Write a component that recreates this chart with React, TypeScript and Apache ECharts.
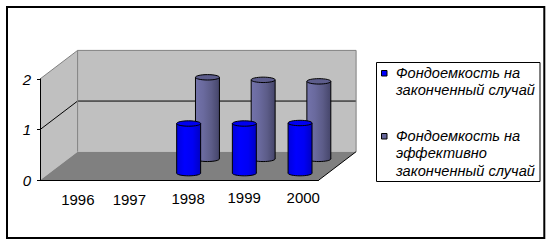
import React, { useEffect, useRef } from 'react';
import * as echarts from 'echarts';

// ---- data ----
const categories = ['1996', '1997', '1998', '1999', '2000'];
const seriesNames = [
  'Фондоемкость на законченный случай',
  'Фондоемкость на эффективно законченный случай',
];
const legendLines = [
  ['Фондоемкость на', 'законченный случай'],
  ['Фондоемкость на', 'эффективно', 'законченный случай'],
];
const completedValues: (number | null)[] = [null, null, 0.98, 0.98, 0.99];
const effectiveValues: (number | null)[] = [null, null, 1.61, 1.56, 1.53];
const yTicks = [0, 1, 2];

// ---- style / layout ----
const FONT = '"Liberation Sans", Arial, sans-serif';
const DEPTH_X = 37.6;
const DEPTH_Y = -28.6;
const seriesColors = ['#0000ff', '#666699'];
const labelShiftX = [20, 11.6, 17.6, 18.4, 25.2];
const labelShiftY = [3.7, 3.7, 2.3, 1.3, 0.3];

const toData = (vals: (number | null)[]) =>
  vals.map((v, i) => (v == null ? null : [i, v])).filter((d) => d != null);

function cylinder(depthFrac: number, body: string[], topFill: string) {
  return (params: any, api: any) => {
    const c = api.value(0);
    const v = api.value(1);
    const top = api.coord([c, v]);
    const base = api.coord([c, 0]);
    const band = api.size([1, 0])[0];
    const rx = band * 0.215;
    const ry = 2.7;
    const cx = top[0] + DEPTH_X * depthFrac;
    const ty = top[1] + DEPTH_Y * depthFrac;
    const by = base[1] + DEPTH_Y * depthFrac;
    const grad = () =>
      new echarts.graphic.LinearGradient(0, 0, 1, 0, body.map((col, i) => ({ offset: i / (body.length - 1), color: col })));
    return {
      type: 'group',
      children: [
        { type: 'ellipse', shape: { cx, cy: by, rx, ry }, style: { fill: grad(), stroke: '#000', lineWidth: 1 } },
        { type: 'rect', shape: { x: cx - rx, y: ty, width: rx * 2, height: by - ty }, style: { fill: grad(), stroke: null } },
        { type: 'line', shape: { x1: cx - rx, y1: ty, x2: cx - rx, y2: by }, style: { stroke: '#000', lineWidth: 1 } },
        { type: 'line', shape: { x1: cx + rx, y1: ty, x2: cx + rx, y2: by }, style: { stroke: '#000', lineWidth: 1 } },
        { type: 'ellipse', shape: { cx, cy: ty, rx, ry }, style: { fill: topFill, stroke: '#000', lineWidth: 1 } },
      ],
    };
  };
}

function walls(params: any, api: any) {
  const cs = params.coordSys;
  const x0 = cs.x;
  const x1 = cs.x + cs.width;
  const yMax = yTicks[yTicks.length - 1];
  const yTop = api.coord([0, yMax])[1];
  const yBase = api.coord([0, 0])[1];
  const children: any[] = [];
  const dx = DEPTH_X, dy = DEPTH_Y;
  children.push({ type: 'polygon', shape: { points: [[x0, yTop], [x0 + dx, yTop + dy], [x0 + dx, yBase + dy], [x0, yBase]] }, style: { fill: '#c0c0c0' } });
  children.push({ type: 'polygon', shape: { points: [[x0 + dx, yTop + dy], [x1 + dx, yTop + dy], [x1 + dx, yBase + dy], [x0 + dx, yBase + dy]] }, style: { fill: '#c0c0c0' } });
  children.push({ type: 'polygon', shape: { points: [[x0, yBase], [x0 + dx, yBase + dy], [x1 + dx, yBase + dy], [x1, yBase]] }, style: { fill: '#808080' } });
  yTicks.slice(1, -1).forEach((t) => {
    const y = api.coord([0, t])[1];
    children.push({ type: 'polyline', shape: { points: [[x0, y], [x0 + dx, y + dy], [x1 + dx, y + dy]] }, style: { stroke: '#000', lineWidth: 1, fill: null } });
  });
  children.push({ type: 'polyline', shape: { points: [[x0, yTop], [x0 + dx, yTop + dy], [x1 + dx, yTop + dy], [x1 + dx, yBase + dy]] }, style: { stroke: '#808080', lineWidth: 1, fill: null } });
  children.push({ type: 'line', shape: { x1: x0 + dx, y1: yTop + dy, x2: x0 + dx, y2: yBase + dy }, style: { stroke: '#808080', lineWidth: 1 } });
  children.push({ type: 'line', shape: { x1: x1, y1: yBase, x2: x1 + dx, y2: yBase + dy }, style: { stroke: '#000', lineWidth: 1 } });
  return { type: 'group', children };
}

function legendGraphic() {
  const children: any[] = [];
  children.push({ type: 'rect', shape: { x: 376.5, y: 62.5, width: 163.5, height: 119 }, style: { fill: '#fff', stroke: '#000', lineWidth: 1 } });
  const starts = [64, 127];
  legendLines.forEach((lines, i) => {
    children.push({ type: 'rect', shape: { x: 381.5, y: starts[i] + 6.5, width: 5.5, height: 5.5 }, style: { fill: seriesColors[i], stroke: '#000', lineWidth: 1 } });
    children.push({
      type: 'text',
      x: 396,
      y: starts[i],
      style: { text: lines.join('\n'), font: `italic 14.6px ${FONT}`, fill: '#000', lineHeight: 17.5, verticalAlign: 'top', align: 'left' },
    });
  });
  return children;
}

export default function App() {
  const ref = useRef<HTMLDivElement>(null);
  useEffect(() => {
    if (!ref.current) return;
    const chart = echarts.init(ref.current, null, { renderer: 'svg' });
    const rich: any = {};
    categories.forEach((_, i) => {
      rich['c' + i] = { fontSize: 15, fontFamily: FONT, color: '#000', lineHeight: 16, padding: [labelShiftY[i], 0, 0, labelShiftX[i]] };
    });
    chart.setOption({
      animation: false,
      backgroundColor: '#fff',
      grid: { left: 40, right: 232.5, top: 79, bottom: 62.7, containLabel: false },
      xAxis: {
        type: 'category',
        data: categories,
        z: 10,
        axisLine: { show: true, lineStyle: { color: '#000', width: 1 } },
        axisTick: { show: false },
        splitLine: { show: false },
        axisLabel: {
          margin: 9,
          interval: 0,
          formatter: (v: string, i: number) => `{c${i}|${v}}`,
          rich,
        },
      },
      yAxis: {
        type: 'value',
        min: yTicks[0],
        max: yTicks[yTicks.length - 1],
        interval: 1,
        z: 10,
        axisLine: { show: true, lineStyle: { color: '#000', width: 1 } },
        axisTick: { show: true, length: 3, lineStyle: { color: '#000' } },
        splitLine: { show: false },
        axisLabel: { margin: 9, fontSize: 15, fontStyle: 'italic', fontFamily: FONT, color: '#000' },
      },
      graphic: [
        { type: 'rect', shape: { x: 7, y: 7, width: 537.3, height: 231 }, style: { fill: null, stroke: '#000', lineWidth: 2 }, z: 100 },
        ...legendGraphic(),
      ],
      series: [
        { type: 'custom', name: 'walls', renderItem: walls, data: [[0, 0]], silent: true, z: 1 },
        {
          type: 'custom',
          name: seriesNames[1],
          renderItem: cylinder(0.75, ['#7373ab', '#6a6a9e', '#5c5c88', '#45456a'], '#5d5d8c'),
          data: toData(effectiveValues),
          z: 2,
        },
        {
          type: 'custom',
          name: seriesNames[0],
          renderItem: cylinder(0.25, ['#0000dd', '#0000ff', '#0000f4', '#0000c4'], '#0000ee'),
          data: toData(completedValues),
          z: 3,
        },
      ],
    });
    return () => chart.dispose();
  }, []);
  return <div ref={ref} style={{ position: 'fixed', left: 0, top: 0, width: 551, height: 243 }} />;
}
